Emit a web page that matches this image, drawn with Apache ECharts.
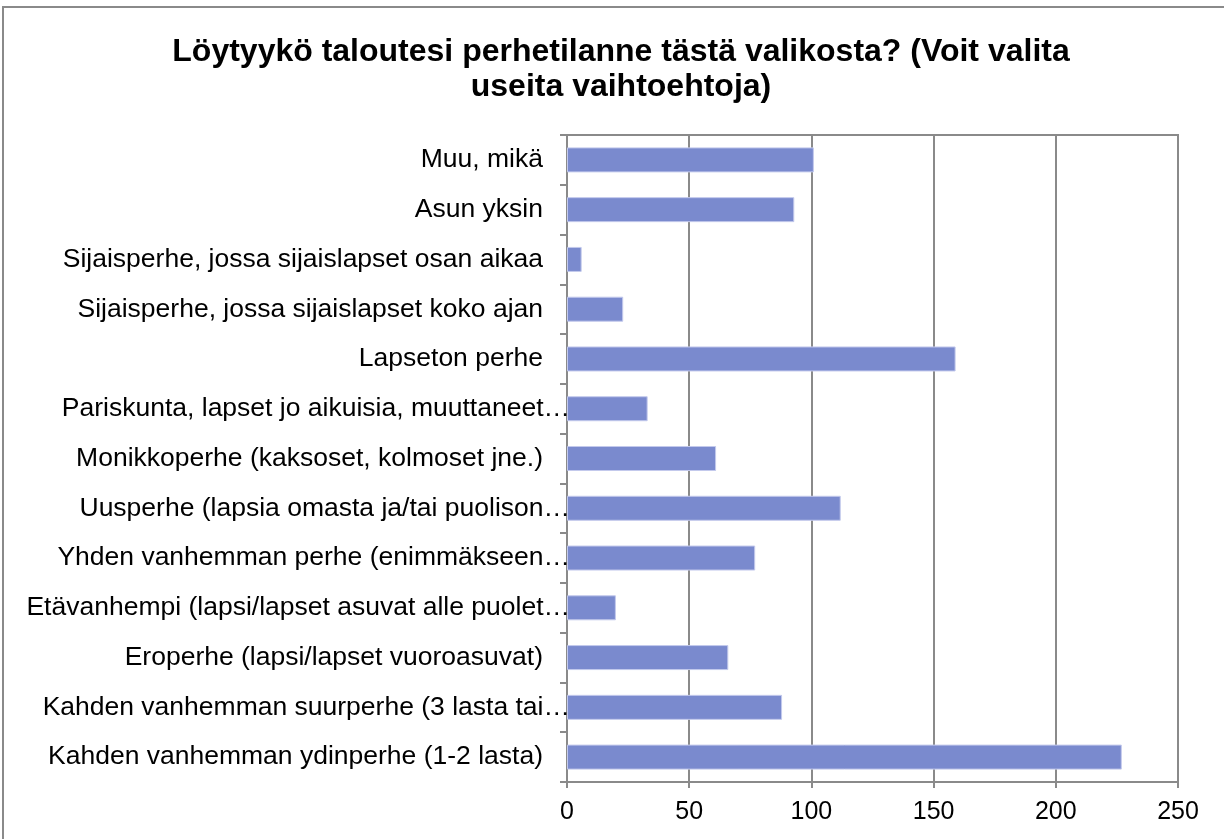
<!DOCTYPE html>
<html>
<head>
<meta charset="utf-8">
<script src="https://cdn.jsdelivr.net/npm/echarts@6/dist/echarts.min.js"></script>
<style>
html,body{margin:0;padding:0;background:#fff;}
#chart{width:1224px;height:839px;}
</style>
</head>
<body>
<div id="chart"></div>
<script>
var titleText = "Löytyykö taloutesi perhetilanne tästä valikosta? (Voit valita\nuseita vaihtoehtoja)";
var categories = [
  "Muu, mikä",
  "Asun yksin",
  "Sijaisperhe, jossa sijaislapset osan aikaa",
  "Sijaisperhe, jossa sijaislapset koko ajan",
  "Lapseton perhe",
  "Pariskunta, lapset jo aikuisia, muuttaneet…",
  "Monikkoperhe (kaksoset, kolmoset jne.)",
  "Uusperhe (lapsia omasta ja/tai puolison…",
  "Yhden vanhemman perhe (enimmäkseen…",
  "Etävanhempi (lapsi/lapset asuvat alle puolet…",
  "Eroperhe (lapsi/lapset vuoroasuvat)",
  "Kahden vanhemman suurperhe (3 lasta tai…",
  "Kahden vanhemman ydinperhe (1-2 lasta)"
];
var values = [101, 93, 6, 23, 159, 33, 61, 112, 77, 20, 66, 88, 227];
var xTicks = [0, 50, 100, 150, 200, 250];

var font = "'Liberation Sans', Arial, sans-serif";
var chart = echarts.init(document.getElementById('chart'));
chart.setOption({
  animation: false,
  backgroundColor: '#fff',
  graphic: [{
    type: 'rect',
    shape: {x: 3, y: 7, width: 1230, height: 850},
    style: {fill: 'none', stroke: '#8a8a8a', lineWidth: 2},
    silent: true
  }],
  title: {
    text: titleText,
    left: 616,
    top: 30,
    textAlign: 'center',
    textStyle: {fontFamily: font, fontWeight: 'bold', fontSize: 32, color: '#000', lineHeight: 35}
  },
  grid: {
    left: 567, right: 46, top: 135, bottom: 57,
    show: true, borderColor: '#8a8a8a', borderWidth: 2, containLabel: false
  },
  xAxis: {
    type: 'value',
    min: xTicks[0],
    max: xTicks[xTicks.length - 1],
    interval: xTicks[1] - xTicks[0],
    axisLine: {show: true, lineStyle: {color: '#8a8a8a', width: 2}},
    axisTick: {show: true, length: 6, lineStyle: {color: '#8a8a8a', width: 2}},
    splitLine: {show: true, lineStyle: {color: '#8a8a8a', width: 2}},
    axisLabel: {fontFamily: font, fontSize: 25, color: '#000', margin: 18}
  },
  yAxis: {
    type: 'category',
    inverse: true,
    data: categories,
    axisLine: {show: true, lineStyle: {color: '#8a8a8a', width: 2}},
    axisTick: {show: true, length: 7, interval: 0, lineStyle: {color: '#8a8a8a', width: 2}},
    splitLine: {show: false},
    axisLabel: {
      fontFamily: font, fontSize: 26.5, color: '#000', margin: -3, interval: 0,
      formatter: function (v) {
        return (v.charAt(v.length - 1) === '…' ? '{e|' : '{n|') + v + '}';
      },
      rich: {
        n: {fontFamily: font, fontSize: 26.5, color: '#000', padding: [0, 27, 0, 0]},
        e: {fontFamily: font, fontSize: 26.5, color: '#000'}
      }
    }
  },
  series: [{
    type: 'bar',
    data: values,
    barWidth: 25,
    itemStyle: {color: '#7a8ace', borderColor: '#c3c9ec', borderWidth: 1}
  }]
});
</script>
</body>
</html>
